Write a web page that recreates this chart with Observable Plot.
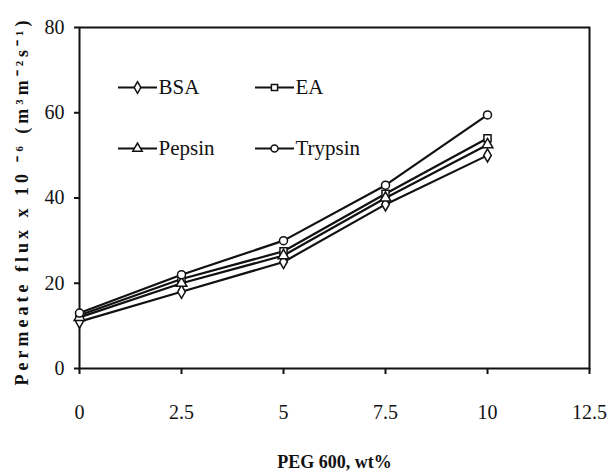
<!DOCTYPE html>
<html>
<head>
<meta charset="utf-8">
<script src="https://cdn.jsdelivr.net/npm/d3@7"></script>
<script src="https://cdn.jsdelivr.net/npm/@observablehq/plot@0.6"></script>
<style>
  body { margin: 0; background: #fff; }
  .flux-label text { letter-spacing: 4px; }
</style>
</head>
<body>
<div id="chart"></div>
<script>
// PEG 600 content in the casting solution (wt%)
const pegContent = [0, 2.5, 5, 7.5, 10];

// Protein solutions tested
const proteins = ["BSA", "EA", "Pepsin", "Trypsin"];

// Permeate flux x 10^-6 (m3 m-2 s-1) for each protein
const fluxBSA = [11, 18, 25, 38.5, 50];
const fluxEA = [12.5, 21, 27.5, 41, 54];
const fluxPepsin = [12, 20, 26.5, 40, 52.5];
const fluxTrypsin = [13, 22, 30, 43, 59.5];

// Axis ticks
const xTicks = [0, 2.5, 5, 7.5, 10, 12.5];
const yTicks = [0, 20, 40, 60, 80];

const fluxByProtein = { BSA: fluxBSA, EA: fluxEA, Pepsin: fluxPepsin, Trypsin: fluxTrypsin };
const rows = proteins.flatMap((p) =>
  pegContent.map((peg, i) => ({ protein: p, peg, flux: fluxByProtein[p][i] }))
);

const markerShapes = ["diamond", "square", "triangle", "circle"];
const serif = "'Liberation Serif', 'Times New Roman', serif";

// short horizontal line used as the legend sample
const legendStroke = {
  draw(context) {
    context.moveTo(-19.5, 0);
    context.lineTo(19.5, 0);
  }
};

const legendMarks = proteins.flatMap((p, i) => {
  const col = i % 2;
  const row = Math.floor(i / 2);
  const cx = 58 + col * 137;
  const cy = 60 + row * 61;
  return [
    Plot.dot([p], { frameAnchor: "top-left", dx: cx, dy: cy, symbol: legendStroke, stroke: "#111", strokeWidth: 2 }),
    Plot.dot([p], { frameAnchor: "top-left", dx: cx, dy: cy, symbol: markerShapes[i], r: 3.5, fill: "white", stroke: "#111", strokeWidth: 1.5 }),
    Plot.text([p], { text: (d) => d, frameAnchor: "top-left", dx: cx + 21, dy: cy, textAnchor: "start", lineAnchor: "middle", fontSize: 21, fill: "#111" })
  ];
});

const chart = Plot.plot({
  width: 608,
  height: 474,
  marginLeft: 79,
  marginRight: 19,
  marginTop: 27,
  marginBottom: 106,
  style: { fontFamily: serif, fontSize: "20px", color: "#111", background: "white" },
  x: { domain: [0, 12.5] },
  y: { domain: [0, 80] },
  symbol: { domain: proteins, range: markerShapes },
  marks: [
    Plot.frame({ stroke: "#111", strokeWidth: 2 }),
    Plot.axisX({ ticks: xTicks, tickSize: 6, tickPadding: 30, tickFormat: (d) => String(d), label: null, strokeWidth: 2, fontSize: 20 }),
    Plot.axisY({ ticks: yTicks, tickSize: 5, tickPadding: 10, label: null, strokeWidth: 2, fontSize: 20 }),
    Plot.line(rows, { x: "peg", y: "flux", z: "protein", stroke: "#111", strokeWidth: 2.2 }),
    Plot.dot(rows, { x: "peg", y: "flux", symbol: "protein", r: 4, fill: "white", stroke: "#111", strokeWidth: 1.5 }),
    ...legendMarks,
    Plot.text(["Permeate flux x 10 \u207B\u2076 (m\u00B3m\u207B\u00B2s\u207B\u00B9)"], {
      text: (d) => d, frameAnchor: "left", dx: -57, dy: 3, rotate: -90,
      textAnchor: "middle", lineAnchor: "middle",
      fontSize: 18, fontWeight: "bold", fill: "#111", className: "flux-label"
    }),
    Plot.text(["PEG 600, wt%"], {
      text: (d) => d, frameAnchor: "bottom", dy: 94, lineAnchor: "middle",
      fontSize: 18, fontWeight: "bold", fill: "#111"
    })
  ]
});

document.getElementById("chart").appendChild(chart);
</script>
</body>
</html>
